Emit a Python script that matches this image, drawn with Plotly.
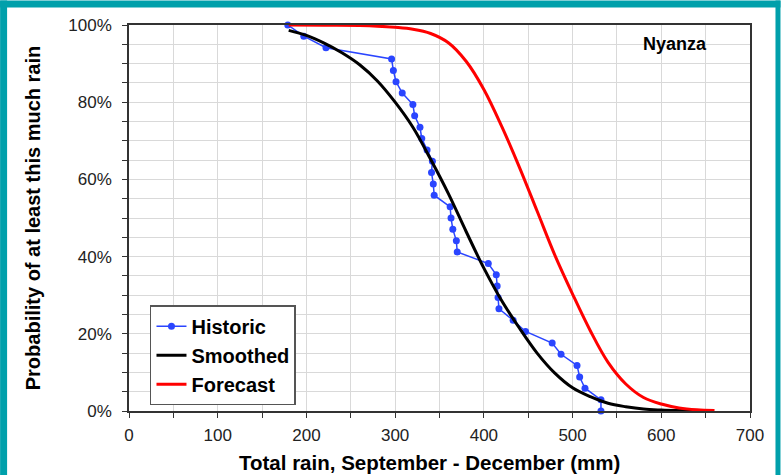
import plotly.graph_objects as go

# Historic data (mm, % probability of at least this much rain)
hist_x = [179, 197, 222, 296, 298, 301, 308, 320, 322, 328, 330, 336, 342, 341, 343, 344,
          362, 363, 365, 369, 370, 405, 414, 415, 416, 417, 433, 447, 477, 487, 505, 508,
          514, 532, 532]
hist_y = [100, 97.1, 94.1, 91.2, 88.2, 85.3, 82.4, 79.4, 76.5, 73.5, 70.6, 67.6, 64.7, 61.8,
          58.8, 55.9, 52.9, 50.0, 47.1, 44.1, 41.2, 38.2, 35.3, 32.4, 29.4, 26.5, 23.5, 20.6,
          17.6, 14.7, 11.8, 8.8, 5.9, 2.9, 0]

smooth_x = [180, 200, 220, 240, 260, 280, 300, 320, 340, 360, 380, 400, 420, 440, 460, 480,
            500, 520, 540, 560, 580, 600, 620, 645]
smooth_y = [98.6, 97.3, 95.3, 92.8, 89.7, 85.5, 80.0, 73.5, 65.2, 56.3, 46.5, 37.0, 28.6, 21.5,
            15.0, 9.8, 6.0, 3.7, 2.0, 1.1, 0.5, 0.25, 0.1, 0.0]

fc_x = [180, 220, 260, 280, 300, 320, 340, 360, 380, 400, 420, 440, 460, 480, 500, 520, 540,
        560, 580, 600, 620, 640, 660]
fc_y = [100, 99.95, 99.85, 99.7, 99.4, 98.9, 97.8, 95.4, 90.6, 83.3, 73.8, 63.2, 51.8, 40.4,
        30.3, 20.8, 12.6, 7.0, 3.5, 1.8, 0.8, 0.3, 0.1]

x_ticks = [0, 100, 200, 300, 400, 500, 600, 700]
y_ticks = [0, 20, 40, 60, 80, 100]
y_tick_labels = ["0%", "20%", "40%", "60%", "80%", "100%"]

W, H = 781, 475
L, R, T, B = 129, 30.5, 24.5, 64
pw, ph = W - L - R, H - T - B

fig = go.Figure()
fig.add_trace(go.Scatter(x=hist_x, y=hist_y, mode="lines+markers", name="Historic",
                         line=dict(color="#2a45ff", width=1.5),
                         marker=dict(color="#2a45ff", size=7), cliponaxis=False))
fig.add_trace(go.Scatter(x=smooth_x, y=smooth_y, mode="lines", name="Smoothed",
                         line=dict(color="black", width=3, shape="spline")))
fig.add_trace(go.Scatter(x=fc_x, y=fc_y, mode="lines", name="Forecast",
                         line=dict(color="#ff0000", width=3, shape="spline")))

def px_x(p):
    return (p - L) / pw

def px_y(p):
    return (H - B - p) / ph

teal = "#00a0ab"
shapes = [
    dict(type="rect", xref="paper", yref="paper", x0=px_x(0), x1=px_x(7), y0=px_y(H), y1=px_y(0),
         fillcolor=teal, line=dict(width=0)),
    dict(type="rect", xref="paper", yref="paper", x0=px_x(776), x1=px_x(W), y0=px_y(H), y1=px_y(0),
         fillcolor=teal, line=dict(width=0)),
    dict(type="rect", xref="paper", yref="paper", x0=px_x(0), x1=px_x(W), y0=px_y(7), y1=px_y(0),
         fillcolor=teal, line=dict(width=0)),
]

fig.update_layout(
    width=W, height=H,
    margin=dict(l=L, r=R, t=T, b=B, autoexpand=False),
    paper_bgcolor="white", plot_bgcolor="white",
    font=dict(family="Liberation Sans, Arial, sans-serif", color="black"),
    showlegend=True,
    legend=dict(x=px_x(150), y=px_y(305), xanchor="left", yanchor="top",
                bgcolor="white", bordercolor="#555555", borderwidth=1.5,
                font=dict(size=20, family="Liberation Sans, Arial, sans-serif", weight="bold"),
                itemwidth=30, tracegroupgap=0),
    shapes=shapes,
    annotations=[
        dict(x=px_x(675), y=px_y(44), xref="paper", yref="paper", text="<b>Nyanza</b>",
             xanchor="center", yanchor="middle", showarrow=False, font=dict(size=18)),
        dict(x=px_x(430), y=px_y(463), xref="paper", yref="paper",
             text="<b>Total rain, September - December (mm)</b>",
             xanchor="center", yanchor="middle", showarrow=False, font=dict(size=20.5)),
    ],
)

fig.update_xaxes(range=[0, 700], tickvals=x_ticks, ticks="outside", ticklen=5, tickcolor="#333",
                 showline=True, linecolor="#333", linewidth=1.5, mirror=True, automargin=False,
                 showgrid=True, gridcolor="#d9d9d9", gridwidth=1.3, zeroline=False,
                 tickfont=dict(size=17, color="#222"), ticklabelstandoff=3,
                 minor=dict(dtick=50, ticks="outside", ticklen=5, tickcolor="#333",
                            showgrid=True, gridcolor="#d9d9d9", gridwidth=1.3))
fig.update_yaxes(range=[0, 100], tickvals=y_ticks, ticktext=y_tick_labels, ticks="outside",
                 ticklen=5, tickcolor="#333",
                 showline=True, linecolor="#333", linewidth=1.5, mirror=True, automargin=False,
                 showgrid=True, gridcolor="#d9d9d9", gridwidth=1.3, zeroline=False,
                 tickfont=dict(size=17, color="#222"), ticklabelstandoff=7,
                 minor=dict(dtick=5, ticks="outside", ticklen=5, tickcolor="#333",
                            showgrid=True, gridcolor="#d9d9d9", gridwidth=1.3),
                 title=dict(text="<b>Probability of at least this much rain</b>",
                            font=dict(size=20), standoff=22))

fig.write_html("out.html", config={"displayModeBar": False},
               post_script="document.body.style.margin='0px';")
